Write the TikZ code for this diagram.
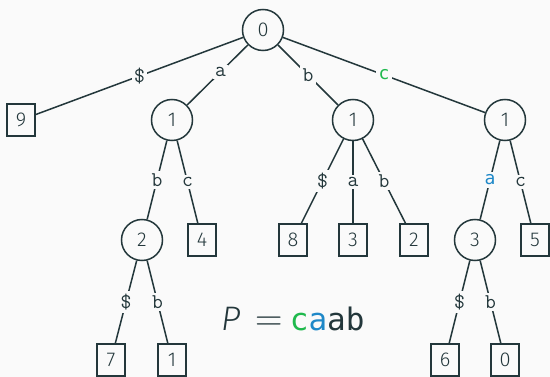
\documentclass[tikz,border=0pt]{standalone}
\usepackage{fontspec}
\setmainfont{Fira Sans Light}
\newfontfamily\codefont{DejaVu Sans Mono}
\newfontfamily\slantfont{Fira Sans Light Italic}
\newfontfamily\eqfont{Latin Modern Roman}
\definecolor{bgc}{HTML}{FAFAFA}
\definecolor{ink}{HTML}{23373B}
\definecolor{hlgreen}{HTML}{1FB94D}
\definecolor{hlblue}{HTML}{1E88C8}
\tikzset{
  x=1pt, y=-1pt,
  every node/.style={text=ink},
  inner/.style={circle, draw=ink, line width=1.5pt, minimum size=41pt, inner sep=0pt,
    font=\fontsize{20}{24}\selectfont},
  leaf/.style={rectangle, draw=ink, line width=1.5pt, minimum width=28pt, minimum height=32pt,
    inner sep=0pt, font=\fontsize{20}{24}\selectfont},
  edge/.style={draw=ink, line width=1.5pt},
  lbl/.style={fill=bgc, inner sep=2.5pt, font=\ttfamily\fontsize{21}{24}\selectfont},
  clbl/.style={fill=bgc, inner sep=2.5pt, font=\codefont\fontsize{18}{22}\selectfont},
}
\begin{document}
\begin{tikzpicture}
\fill[bgc] (0,0) rectangle (550,377);
\useasboundingbox (0,0) rectangle (550,377);
% internal nodes
\node[inner] (r)  at (263,30) {0};
\node[inner] (na) at (172,120) {1};
\node[inner] (nb) at (353,120) {1};
\node[inner] (nc) at (505,120) {1};
\node[inner] (nab) at (142,240) {2};
\node[inner] (nca) at (475,240) {3};
% leaves
\node[leaf] (l9) at (21,120) {9};
\node[leaf] (l4) at (202,240) {4};
\node[leaf] (l8) at (293,240) {8};
\node[leaf] (l3) at (353,240) {3};
\node[leaf] (l2) at (414,240) {2};
\node[leaf] (l5) at (535,240) {5};
\node[leaf] (l7) at (111,360) {7};
\node[leaf] (l1) at (172,360) {1};
\node[leaf] (l6) at (445,360) {6};
\node[leaf] (l0) at (505,360) {0};
% edges with their labels
\path[edge] (r) -- node[lbl] {\$} (l9);
\path[edge] (r) -- node[lbl, pos=0.45] {a} (na);
\path[edge] (r) -- node[lbl, pos=0.5] {b} (nb);
\path[edge] (r) -- node[clbl, text=hlgreen] {c} (nc);
\path[edge] (na) -- node[lbl] {b} (nab);
\path[edge] (na) -- node[lbl] {c} (l4);
\path[edge] (nb) -- node[lbl] {\$} (l8);
\path[edge] (nb) -- node[lbl] {a} (l3);
\path[edge] (nb) -- node[lbl] {b} (l2);
\path[edge] (nc) -- node[clbl, text=hlblue] {a} (nca);
\path[edge] (nc) -- node[lbl] {c} (l5);
\path[edge] (nab) -- node[lbl] {\$} (l7);
\path[edge] (nab) -- node[lbl] {b} (l1);
\path[edge] (nca) -- node[lbl] {\$} (l6);
\path[edge] (nca) -- node[lbl] {b} (l0);
% pattern
\node[anchor=base west, inner sep=0pt] (pat) at (221,331)
  {\fontsize{34}{38}\selectfont{\slantfont P}\hspace{15pt}{\eqfont\fontsize{38}{40}\selectfont =}\hspace{7pt}{\codefont\fontsize{31}{34}\selectfont\textcolor{hlgreen}{c}\textcolor{hlblue}{a}ab}};
\end{tikzpicture}
\end{document}
